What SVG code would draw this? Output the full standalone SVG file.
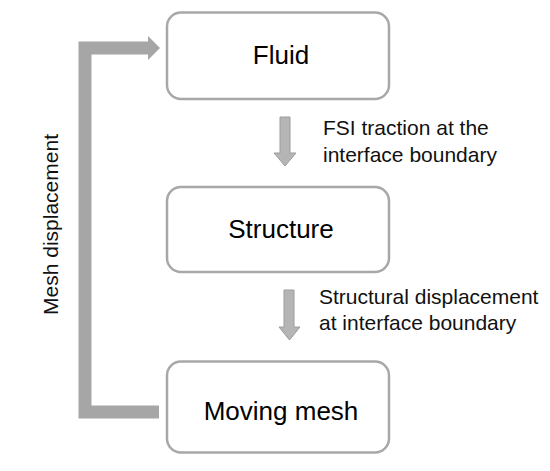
<svg xmlns="http://www.w3.org/2000/svg" width="550" height="471" viewBox="0 0 550 471">
<style>
.box{fill:#fff;stroke:#a8a8a8;stroke-width:2.5}
.lbl{font-family:"Liberation Sans",Arial,sans-serif;font-size:26px;fill:#000;text-anchor:middle}
.txt{font-family:"Liberation Sans",Arial,sans-serif;font-size:21px;fill:#111}
.darr{fill:#b5b5b5;stroke:#9c9c9c;stroke-width:1}
.fb{fill:none;stroke:#a6a6a6;stroke-width:13}
</style>
<rect width="550" height="471" fill="#fff"/>
<g id="connectors">
<path class="fb" d="M159,412 H85 V48 H149"/>
<polygon points="148,36 160,48 148,60" fill="#a6a6a6"/>
<polygon class="darr" points="280,117 290,117 290,153 296,153 285,166 274,153 280,153"/>
<polygon class="darr" points="284,290 294,290 294,327 300,327 289.5,340 279,327 284,327"/>
</g>
<g id="fluid">
<rect class="box" x="167" y="12.5" width="222" height="86.5" rx="14"/>
<text class="lbl" x="281" y="64">Fluid</text>
</g>
<g id="structure">
<rect class="box" x="167" y="187" width="222" height="85" rx="14"/>
<text class="lbl" x="281" y="238">Structure</text>
</g>
<g id="moving-mesh">
<rect class="box" x="167" y="361.5" width="222" height="91" rx="14"/>
<text class="lbl" x="281" y="420">Moving mesh</text>
</g>
<g id="labels">
<text class="txt" x="323" y="135">FSI traction at the</text>
<text class="txt" x="323" y="162">interface boundary</text>
<text class="txt" x="319" y="304">Structural displacement</text>
<text class="txt" x="319" y="330">at interface boundary</text>
<text class="txt" transform="translate(58,224.5) rotate(-90)" text-anchor="middle">Mesh displacement</text>
</g>
</svg>
